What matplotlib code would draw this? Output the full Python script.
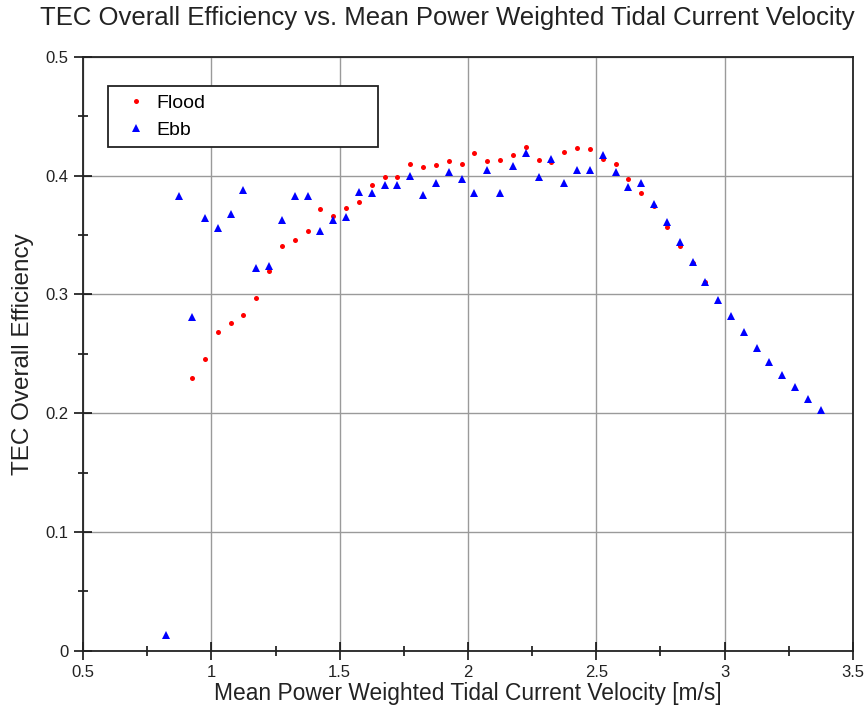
import matplotlib
matplotlib.use("Agg")
import matplotlib.pyplot as plt
from matplotlib.ticker import MultipleLocator

plt.rcParams['font.family'] = ['Liberation Sans', 'DejaVu Sans']

# flood tide points
flood_v = [0.925, 0.975, 1.025, 1.075, 1.125, 1.175, 1.225, 1.275, 1.325, 1.375,
           1.425, 1.475, 1.525, 1.575, 1.625, 1.675, 1.725, 1.775, 1.825, 1.875,
           1.925, 1.975, 2.025, 2.075, 2.125, 2.175, 2.225, 2.275, 2.325, 2.375,
           2.425, 2.475, 2.525, 2.575, 2.625, 2.675, 2.725, 2.775, 2.825, 2.875,
           2.925]
flood_eff = [0.230, 0.246, 0.268, 0.276, 0.283, 0.297, 0.320, 0.341, 0.346, 0.353,
             0.372, 0.366, 0.373, 0.378, 0.392, 0.399, 0.399, 0.410, 0.407, 0.409,
             0.412, 0.410, 0.419, 0.412, 0.413, 0.417, 0.424, 0.413, 0.411, 0.420,
             0.423, 0.422, 0.414, 0.410, 0.397, 0.385, 0.374, 0.357, 0.341, 0.326,
             0.310]

# ebb tide points
ebb_v = [0.825, 0.875, 0.925, 0.975, 1.025, 1.075, 1.125, 1.175, 1.225, 1.275,
         1.325, 1.375, 1.425, 1.475, 1.525, 1.575, 1.625, 1.675, 1.725, 1.775,
         1.825, 1.875, 1.925, 1.975, 2.025, 2.075, 2.125, 2.175, 2.225, 2.275,
         2.325, 2.375, 2.425, 2.475, 2.525, 2.575, 2.625, 2.675, 2.725, 2.775,
         2.825, 2.875, 2.925, 2.975, 3.025, 3.075, 3.125, 3.175, 3.225, 3.275,
         3.325, 3.375]
ebb_eff = [0.013, 0.383, 0.281, 0.364, 0.356, 0.368, 0.388, 0.322, 0.324, 0.363,
           0.383, 0.383, 0.353, 0.363, 0.365, 0.386, 0.385, 0.392, 0.392, 0.400,
           0.384, 0.394, 0.403, 0.397, 0.385, 0.405, 0.385, 0.408, 0.419, 0.399,
           0.414, 0.394, 0.405, 0.405, 0.417, 0.403, 0.390, 0.394, 0.376, 0.361,
           0.344, 0.327, 0.310, 0.295, 0.2815, 0.268, 0.255, 0.243, 0.232, 0.222,
           0.212, 0.2026]

fig = plt.figure(figsize=(8.65, 7.09), dpi=100)
ax = fig.add_axes([0.096, 0.082, 0.890, 0.838])

ax.plot(flood_v, flood_eff, 'o', color='red', markersize=3.6, markeredgewidth=0,
        label='Flood', zorder=3)
ax.plot(ebb_v, ebb_eff, '^', color='blue', markersize=5.5, markeredgewidth=0,
        label='Ebb', zorder=3)

ax.set_xlim(0.5, 3.5)
ax.set_ylim(0, 0.5)
ax.xaxis.set_major_locator(MultipleLocator(0.5))
ax.xaxis.set_minor_locator(MultipleLocator(0.25))
ax.yaxis.set_major_locator(MultipleLocator(0.1))
ax.yaxis.set_minor_locator(MultipleLocator(0.05))
ax.xaxis.set_major_formatter(plt.FuncFormatter(lambda v, p: f'{v:g}'))
ax.yaxis.set_major_formatter(plt.FuncFormatter(lambda v, p: f'{v:g}'))

ax.tick_params(which='major', direction='inout', length=13, width=1.1,
               labelsize=12, colors='black', labelcolor='#222222', pad=4)
ax.tick_params(which='minor', direction='inout', length=7, width=1.1)
ax.tick_params(top=False, right=False, which='both')

ax.grid(True, which='major', color='#9a9a9a', linewidth=1.0)
for s in ax.spines.values():
    s.set_linewidth(1.3)
    s.set_color('#222222')

ax.set_xlabel('Mean Power Weighted Tidal Current Velocity [m/s]', fontsize=16.4,
              color='#222222', labelpad=1)
ax.set_ylabel('TEC Overall Efficiency', fontsize=17.5, color='#222222', labelpad=8)
fig.text(0.517, 0.974, 'TEC Overall Efficiency vs. Mean Power Weighted Tidal Current Velocity',
         ha='center', va='center', fontsize=18.5, color='#222222')

leg = ax.legend(loc='upper left', bbox_to_anchor=(0.032, 0.851, 0.351, 0.1),
                mode='expand', fontsize=14, frameon=True, fancybox=False,
                borderaxespad=0, handlelength=2.0, handletextpad=0.05,
                borderpad=0.45, labelspacing=0.45)
leg.get_frame().set_edgecolor('#222222')
leg.get_frame().set_linewidth(1.3)
leg.get_frame().set_alpha(1)

fig.savefig('out.png', dpi=100)
